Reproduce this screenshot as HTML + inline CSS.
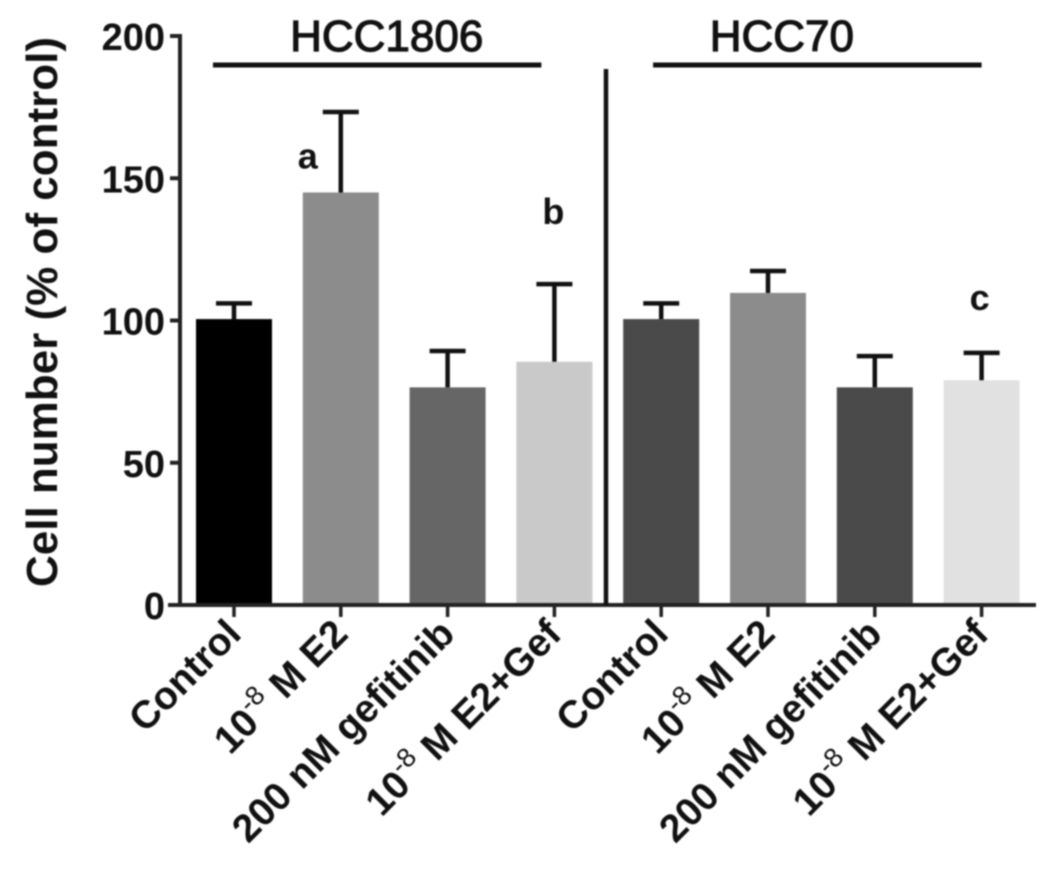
<!DOCTYPE html>
<html>
<head>
<meta charset="utf-8">
<style>
html,body{margin:0;padding:0;background:#fff;width:1063px;height:874px;overflow:hidden}
svg{display:block;filter:blur(.7px)}
text{font-family:"Liberation Sans",sans-serif;font-weight:bold;fill:#111}
</style>
</head>
<body>
<svg id="chart" xmlns="http://www.w3.org/2000/svg" width="1063" height="874" viewBox="0 0 1063 874"></svg>
<script>
const categories = ["Control", "10|-8| M E2", "200 nM gefitinib", "10|-8| M E2+Gef", "Control", "10|-8| M E2", "200 nM gefitinib", "10|-8| M E2+Gef"];
const means = [100.5, 145, 76.5, 85.5, 100.5, 109.7, 76.5, 79];
const errorTops = [106, 173.3, 89.3, 112.8, 106, 117.4, 87.5, 88.6];
const barColors = ["#000000", "#8c8c8c", "#666666", "#c9c9c9", "#4a4a4a", "#8c8c8c", "#4a4a4a", "#e1e1e1"];
const sigLetters = ["", "a", "", "b", "", "", "", "c"];
const sigValues = [0, 153.5, 0, 134, 0, 0, 0, 103.7];
const yTicks = [0, 50, 100, 150, 200];
const groupNames = ["HCC1806", "HCC70"];
const groupStarts = [-0.197, 3.924];
const groupEnds = [2.878, 7];
const groupCentres = [1.43, 5.13];

const NS = "http://www.w3.org/2000/svg";
const svg = document.getElementById("chart");
const y = v => 605 - v * 2.845;
const x = i => 234 + i * 106.8;
function make(tag, attrs, parent) {
  const el = document.createElementNS(NS, tag);
  for (const k in attrs) el.setAttribute(k, attrs[k]);
  (parent || svg).appendChild(el);
  return el;
}

// bars and error bars
categories.forEach((c, i) => {
  const bar = make("rect", {x: x(i) - 38, y: y(means[i]), width: 76, height: y(0) - y(means[i]), fill: barColors[i]});
  
  
  const stem = make("line", {x1: x(i), x2: x(i), y1: y(means[i]), y2: y(errorTops[i]), stroke: "#111", "stroke-width": 4.5});
  
  
  const cap = make("line", {x1: x(i) - 18, x2: x(i) + 18, y1: y(errorTops[i]), y2: y(errorTops[i]), stroke: "#111", "stroke-width": 4.5});
  
  
});

// y axis
const yAxis = make("line", {x1: 180, x2: 180, y1: y(200) - 2, y2: y(0) + 2, stroke: "#222", "stroke-width": 4});


yTicks.forEach(t => {
  const tick = make("line", {x1: 170, x2: 182, y1: y(t), y2: y(t), stroke: "#222", "stroke-width": 4});
  
  
  const label = make("text", {x: 165, y: y(t) + 14, "text-anchor": "end", "font-size": 38});
  label.textContent = t;
  
  
});

// x axis
const xAxis = make("line", {x1: 168, x2: 1036, y1: y(0), y2: y(0), stroke: "#222", "stroke-width": 4});


categories.forEach((c, i) => {
  const tick = make("line", {x1: x(i), x2: x(i), y1: y(0), y2: y(0) + 12, stroke: "#222", "stroke-width": 3.5});
  
  
  const label = make("text", {"text-anchor": "end", "font-size": 39, transform: "translate(" + (x(i) + 9) + " " + (y(0) + 31) + ") rotate(-45)"});
  
  
  const parts = c.split("|");
  if (parts.length === 3) {
    const a = make("tspan", {}, label); a.textContent = parts[0];
    const b = make("tspan", {dy: -16, "font-size": 27, style: "font-weight:normal"}, label); b.textContent = parts[1];
    const d = make("tspan", {dy: 16}, label); d.textContent = parts[2];
  } else {
    label.textContent = c;
  }
});

// significance letters
sigLetters.forEach((s, i) => {
  if (!s) return;
  const t = make("text", {x: x(i) - (s === "a" ? 33 : (s === "c" ? 2 : 1)), y: y(sigValues[i]), "text-anchor": "middle", "font-size": 36});
  t.textContent = s;
  
  
});

// group headers
groupNames.forEach((name, g) => {
  const line = make("line", {x1: x(groupStarts[g]), x2: x(groupEnds[g]), y1: 65, y2: 65, stroke: "#111", "stroke-width": 5});
  
  
  const t = make("text", {x: x(groupCentres[g]), y: 51, "text-anchor": "middle", "font-size": 44, style: "font-weight:normal;stroke:#111;stroke-width:1.2px"});
  t.textContent = name;
  
  
});

// divider
const divider = make("line", {x1: 606, x2: 606, y1: 69, y2: 605, stroke: "#111", "stroke-width": 4.5});



// y title
const title = make("text", {transform: "translate(57 312) rotate(-90)", "text-anchor": "middle", "font-size": 44});
title.textContent = "Cell number (% of control)";


</script>
</body>
</html>
